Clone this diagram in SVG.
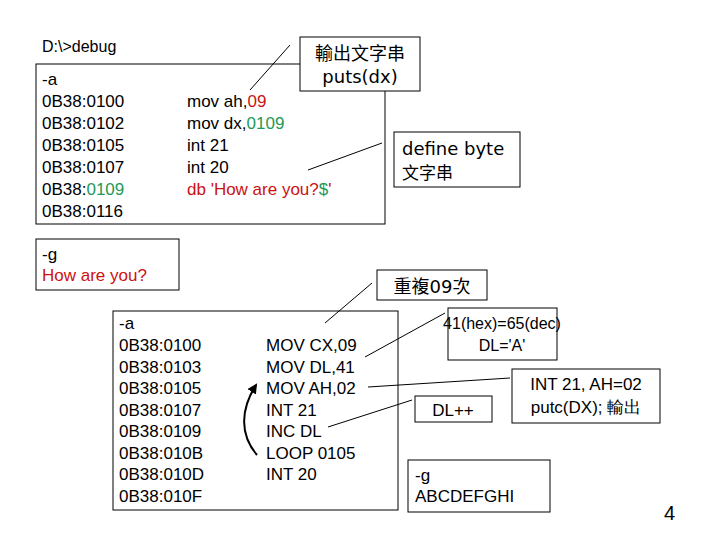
<svg xmlns="http://www.w3.org/2000/svg" width="720" height="540" viewBox="0 0 720 540">
<defs><style>
text{font-family:"Liberation Sans",Arial,sans-serif;font-size:17px;fill:#000}
.cjk{font-family:"DejaVu Sans","Noto Sans CJK TC",sans-serif;font-size:18px}
.box{fill:#fff;stroke:#000;stroke-width:1}
.ln{stroke:#000;stroke-width:1;fill:none}
.r{fill:#cc1111}.g{fill:#229955}
</style>
<marker id="ah" viewBox="0 0 10 10" refX="8" refY="5" markerWidth="5" markerHeight="5" orient="auto"><path d="M0,0L10,5L0,10z" fill="#000"/></marker>
</defs>
<rect width="720" height="540" fill="#fff"/>
<text x="42" y="52" style="font-size:16px">D:\&gt;debug</text>
<g id="prog1"><rect class="box" x="36" y="64" width="349" height="160"/>
<text x="42" y="85">-a</text>
<text x="42" y="107">0B38:0100</text><text x="42" y="129">0B38:0102</text><text x="42" y="151">0B38:0105</text><text x="42" y="173">0B38:0107</text><text x="42" y="195">0B38:<tspan class="g">0109</tspan></text><text x="42" y="217">0B38:0116</text>
<text x="187" y="107">mov ah,<tspan class="r">09</tspan></text><text x="187" y="129">mov dx,<tspan class="g">0109</tspan></text><text x="187" y="151">int 21</text><text x="187" y="173">int 20</text><text x="187" y="195" class="r">db 'How are you?<tspan class="g">$</tspan>'</text></g>
<g id="prog2"><rect class="box" x="113" y="311" width="285" height="199"/>
<text x="119" y="329">-a</text>
<text x="119" y="351">0B38:0100</text><text x="119" y="373">0B38:0103</text><text x="119" y="394">0B38:0105</text><text x="119" y="416">0B38:0107</text><text x="119" y="437">0B38:0109</text><text x="119" y="459">0B38:010B</text><text x="119" y="480">0B38:010D</text><text x="119" y="502">0B38:010F</text>
<text x="266" y="351">MOV CX,09</text><text x="266" y="373">MOV DL,41</text><text x="266" y="394">MOV AH,02</text><text x="266" y="416">INT 21</text><text x="266" y="437">INC DL</text><text x="266" y="459">LOOP 0105</text><text x="266" y="480">INT 20</text></g>
<g id="connectors">
<line class="ln" x1="250" y1="90" x2="290" y2="45"/>
<line class="ln" x1="382" y1="143" x2="308" y2="170"/>
<line class="ln" x1="372" y1="283" x2="325" y2="323"/>
<line class="ln" x1="445" y1="313" x2="365" y2="357"/>
<line class="ln" x1="510" y1="378" x2="368" y2="387"/>
<line class="ln" x1="412" y1="400" x2="328" y2="427"/>
<path d="M257,455 C240,435 240,410 256,385" stroke="#000" stroke-width="2" fill="none" marker-end="url(#ah)"/>
</g>
<g id="c1"><rect class="box" x="300" y="37" width="120" height="54"/><text class="cjk" x="360" y="60" text-anchor="middle">輸出文字串</text><text class="cjk" x="360" y="83" text-anchor="middle">puts(dx)</text></g>
<g id="c2"><rect class="box" x="394" y="132" width="126" height="55"/><text class="cjk" x="402" y="155">define byte</text><text class="cjk" x="402" y="179" style="font-size:17px">文字串</text></g>
<g id="g1"><rect class="box" x="36" y="239" width="143" height="51"/><text x="42" y="260">-g</text><text x="42" y="281" class="r">How are you?</text></g>
<g id="c3"><rect class="box" x="377" y="270" width="110" height="30"/><text class="cjk" x="432" y="293" text-anchor="middle">重複09次</text></g>
<g id="c4"><rect class="box" x="448" y="308" width="109" height="52"/><text x="502" y="329" text-anchor="middle" style="font-size:16px">41(hex)=65(dec)</text><text x="502" y="351" text-anchor="middle" style="font-size:16px">DL='A'</text></g>
<g id="c5"><rect class="box" x="512" y="369" width="148" height="54"/><text x="586" y="390" text-anchor="middle">INT 21, AH=02</text><text x="586" y="413" text-anchor="middle">putc(DX); 輸出</text></g>
<g id="c6"><rect class="box" x="415" y="396" width="77" height="26"/><text x="453" y="416" text-anchor="middle">DL++</text></g>
<g id="g2"><rect class="box" x="408" y="460" width="142" height="52"/><text x="415" y="481">-g</text><text x="415" y="502">ABCDEFGHI</text></g>
<text x="664" y="520" style="font-size:20px">4</text>
</svg>
